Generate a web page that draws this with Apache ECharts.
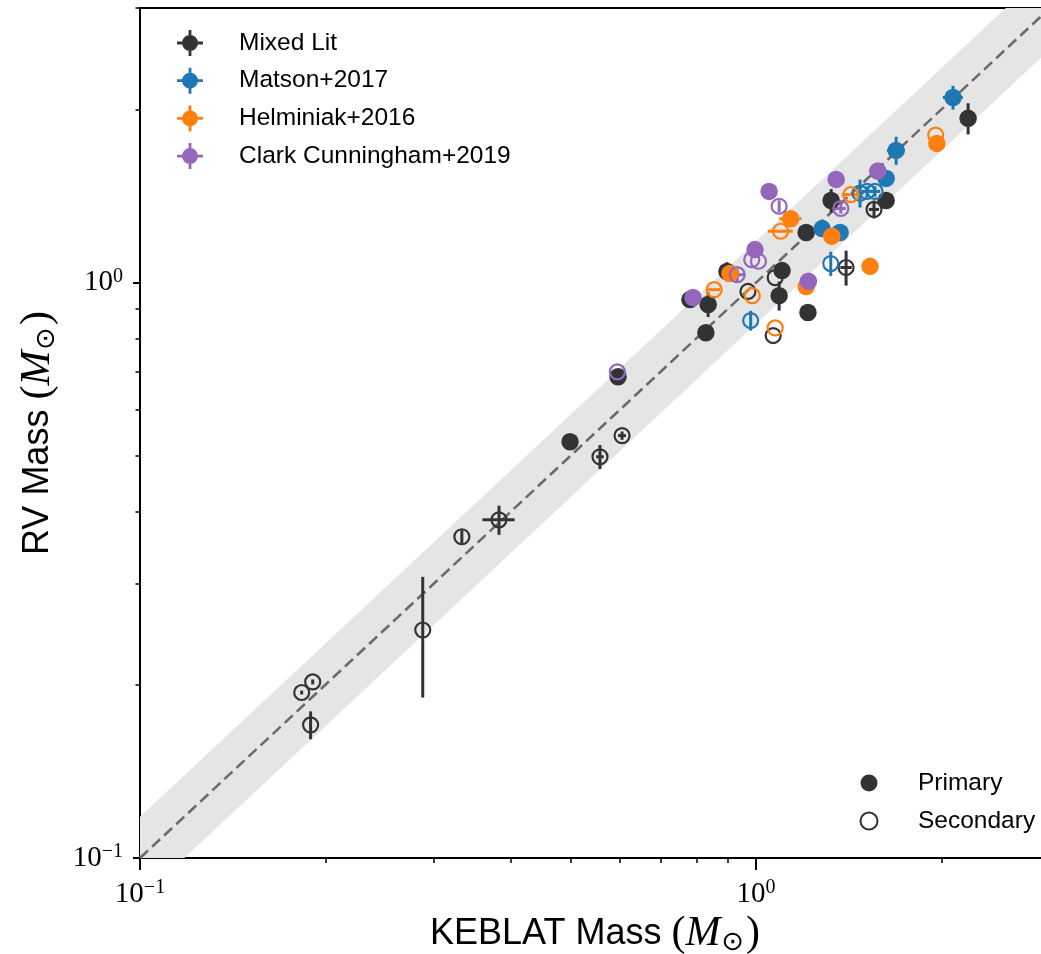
<!DOCTYPE html>
<html>
<head>
<meta charset="utf-8">
<script src="https://cdn.jsdelivr.net/npm/echarts@6/dist/echarts.min.js"></script>
<style>
  html, body { margin: 0; padding: 0; background: #fff; }
  #chart { width: 1041px; height: 954px; }
</style>
</head>
<body>
<div id="chart"></div>
<script>
// Each row: [KEBLAT mass, RV mass, KEBLAT error, RV error]  (solar masses)
const mixedLitPrimary = [
  [2.209, 1.929, 0, 0.12],
  [1.626, 1.389, 0, 0],
  [1.324, 1.389, 0, 0.065],
  [1.206, 1.222, 0, 0],
  [1.102, 1.049, 0, 0],
  [1.090, 0.949, 0, 0.055],
  [1.214, 0.887, 0, 0],
  [0.897, 1.045, 0, 0.04],
  [0.829, 0.818, 0, 0],
  [0.781, 0.934, 0, 0],
  [0.836, 0.916, 0, 0.045],
  [0.597, 0.686, 0, 0],
  [0.499, 0.529, 0, 0]
];
const mixedLitSecondary = [
  [1.554, 1.340, 0.03, 0.048],
  [1.400, 1.062, 0.03, 0.074],
  [1.074, 1.020, 0, 0],
  [0.970, 0.965, 0, 0],
  [1.066, 0.809, 0, 0],
  [0.606, 0.542, 0.009, 0.009],
  [0.558, 0.498, 0.008, 0.024],
  [0.3826, 0.387, 0.023, 0.0225],
  [0.333, 0.3616, 0, 0.0097],
  [0.2877, 0.249, 0, 0.059],
  [0.1907, 0.2023, 0, 0.002],
  [0.1830, 0.1939, 0, 0.0015],
  [0.1892, 0.1703, 0.001, 0.0095]
];
const matsonPrimary = [
  [2.088, 2.097, 0.078, 0.10],
  [1.688, 1.697, 0.057, 0.095],
  [1.626, 1.517, 0, 0],
  [1.280, 1.241, 0, 0],
  [1.369, 1.222, 0, 0]
];
const matsonSecondary = [
  [1.322, 1.079, 0, 0.052],
  [0.980, 0.859, 0, 0.034],
  [1.475, 1.430, 0.02, 0.08],
  [1.514, 1.440, 0.03, 0.03],
  [1.560, 1.440, 0.03, 0.03]
];
const helminiakPrimary = [
  [1.965, 1.745, 0, 0],
  [1.138, 1.291, 0.047, 0],
  [1.327, 1.204, 0, 0],
  [1.531, 1.067, 0, 0],
  [1.206, 0.984, 0, 0],
  [0.907, 1.037, 0, 0]
];
const helminiakSecondary = [
  [1.957, 1.804, 0, 0],
  [1.425, 1.422, 0.048, 0],
  [1.096, 1.228, 0.051, 0],
  [0.855, 0.972, 0.019, 0],
  [0.986, 0.949, 0, 0],
  [1.074, 0.834, 0, 0]
];
const clarkPrimary = [
  [1.576, 1.562, 0, 0],
  [1.349, 1.511, 0, 0],
  [1.050, 1.440, 0, 0],
  [0.996, 1.141, 0, 0],
  [1.216, 1.005, 0, 0],
  [0.790, 0.942, 0, 0]
];
const clarkSecondary = [
  [1.090, 1.357, 0, 0.033],
  [1.373, 1.345, 0.026, 0.027],
  [0.984, 1.096, 0, 0],
  [1.009, 1.089, 0, 0],
  [0.932, 1.032, 0.024, 0.026],
  [0.5955, 0.6993, 0, 0]
];

// Axis range, one-to-one line and tolerance band factor
const axisRange = [0.1, 3.0];
const bandFactor = 1.18;
const majorTicks = [0.1, 1];
const minorTicks = [0.2, 0.3, 0.4, 0.5, 0.6, 0.7, 0.8, 0.9, 2, 3];

const sources = [
  { name: 'Mixed Lit', color: '#333333', primary: mixedLitPrimary, secondary: mixedLitSecondary },
  { name: 'Matson+2017', color: '#1f77b4', primary: matsonPrimary, secondary: matsonSecondary },
  { name: 'Helminiak+2016', color: '#ff7f0e', primary: helminiakPrimary, secondary: helminiakSecondary },
  { name: 'Clark Cunningham+2019', color: '#9467bd', primary: clarkPrimary, secondary: clarkSecondary }
];

const chart = echarts.init(document.getElementById('chart'), null, { renderer: 'canvas' });

function powLabel(v) {
  const e = Math.round(Math.log10(v));
  return '{b|10}{s|' + (e < 0 ? '\u2212' + (-e) : e) + '}';
}
const tickRich = {
  b: { fontFamily: 'Liberation Serif', fontSize: 29, lineHeight: 32, color: '#000' },
  s: { fontFamily: 'Liberation Serif', fontSize: 20, lineHeight: 20, verticalAlign: 'top', color: '#000' }
};
const nameRich = {
  t: { fontFamily: 'Liberation Sans', fontSize: 36, color: '#000', lineHeight: 46 },
  p: { fontFamily: 'Liberation Serif', fontSize: 42, color: '#000', lineHeight: 46 },
  m: { fontFamily: 'Liberation Serif', fontStyle: 'italic', fontSize: 42, color: '#000', lineHeight: 46 },
  o: { fontFamily: 'DejaVu Sans', fontSize: 27, color: '#000', lineHeight: 46, verticalAlign: 'bottom',
       padding: [0, 2, 1, 1] }
};

function mainAxis(isX, title) {
  return {
    type: 'log', logBase: 10, min: axisRange[0], max: axisRange[1],
    position: isX ? 'bottom' : 'left',
    name: title, nameLocation: 'middle', nameGap: isX ? 45 : 79,
    nameTextStyle: { rich: nameRich },
    axisLine: { show: true, lineStyle: { color: '#000', width: 2 } },
    axisTick: { show: true, inside: false, length: isX ? 12 : 7, customValues: majorTicks,
                lineStyle: { color: '#000', width: 2 } },
    axisLabel: { show: true, customValues: majorTicks, formatter: powLabel, rich: tickRich,
                 margin: isX ? 20 : 17 },
    splitLine: { show: false }, minorTick: { show: false }, minorSplitLine: { show: false }
  };
}
function minorAxis(isX) {
  return {
    type: 'log', logBase: 10, min: axisRange[0], max: axisRange[1],
    position: isX ? 'bottom' : 'left',
    axisLine: { show: false },
    axisTick: { show: true, inside: false, length: isX ? 5 : 4.5, customValues: minorTicks,
                lineStyle: { color: '#000', width: 1.5 } },
    axisLabel: { show: false },
    splitLine: { show: false }
  };
}

const titleX = '{t|KEBLAT Mass }{p|(}{m|M}{o|\u2299}{p|)}';
const titleY = '{t|RV Mass }{p|(}{m|M}{o|\u2299}{p|)}';

// Tolerance band around the one-to-one relation
const bandSeries = {
  type: 'custom', name: 'band', z: 1, clip: true, silent: true,
  data: [[axisRange[0], axisRange[0]]],
  renderItem: function (params, api) {
    const lo = axisRange[0], hi = axisRange[1];
    const pts = [
      api.coord([lo, lo / bandFactor]), api.coord([hi, hi / bandFactor]),
      api.coord([hi, hi * bandFactor]), api.coord([lo, lo * bandFactor])
    ];
    return { type: 'polygon', shape: { points: pts }, style: { fill: '#e5e5e5' } };
  }
};
const oneToOne = {
  type: 'line', name: 'one-to-one', z: 2, silent: true, symbol: 'none',
  data: axisRange.map(v => [v, v]),
  lineStyle: { color: '#6b6b6b', width: 2.6, type: [11, 5.5] }
};

function errorSeries(rows, color, label) {
  return {
    type: 'custom', name: label, z: 3, clip: true, silent: true,
    data: rows,
    renderItem: function (params, api) {
      const x = api.value(0), y = api.value(1), xe = api.value(2), ye = api.value(3);
      const kids = [];
      if (ye > 0) {
        const a = api.coord([x, y - ye]), b = api.coord([x, y + ye]);
        kids.push({ type: 'line', shape: { x1: a[0], y1: a[1], x2: b[0], y2: b[1] },
                    style: { stroke: color, lineWidth: 3 } });
      }
      if (xe > 0) {
        const a = api.coord([x - xe, y]), b = api.coord([x + xe, y]);
        kids.push({ type: 'line', shape: { x1: a[0], y1: a[1], x2: b[0], y2: b[1] },
                    style: { stroke: color, lineWidth: 3 } });
      }
      return { type: 'group', children: kids };
    }
  };
}
function markerSeries(rows, color, label, hollow) {
  return {
    type: 'scatter', name: label, z: 3, silent: true,
    data: rows.map(r => [r[0], r[1]]),
    symbol: 'circle', symbolSize: hollow ? 15 : 17.5,
    itemStyle: hollow ? { color: 'rgba(0,0,0,0)', borderColor: color, borderWidth: 2.2, opacity: 1 }
                      : { color: color, opacity: 1 }
  };
}

const series = [bandSeries, oneToOne];
sources.forEach(s => {
  series.push(errorSeries(s.secondary, s.color, s.name + ' secondary bars'));
  series.push(markerSeries(s.secondary, s.color, s.name + ' secondary', true));
  series.push(errorSeries(s.primary, s.color, s.name + ' primary bars'));
  series.push(markerSeries(s.primary, s.color, s.name, false));
});
// Marker-style key entries
series.push(markerSeries([], '#333333', 'Primary', false));
series.push(markerSeries([], '#333333', 'Secondary', true));

const errIcon = 'path://M5,13 A8,8 0 1,1 21,13 A8,8 0 1,1 5,13 Z M11.6,0 H14.4 V26 H11.6 Z M0,11.6 H26 V14.4 H0 Z';

chart.setOption({
  animation: false,
  backgroundColor: '#fff',
  // plot frame runs a few pixels past the right edge of the canvas
  grid: { left: 140, top: 8, right: -9, bottom: 96, show: true, borderColor: '#000', borderWidth: 2,
          backgroundColor: 'transparent', containLabel: false, outerBoundsMode: 'none' },
  xAxis: [mainAxis(true, titleX), minorAxis(true)],
  yAxis: [mainAxis(false, titleY), minorAxis(false)],
  legend: [
    {
      data: sources.map(s => ({ name: s.name, icon: errIcon })),
      orient: 'vertical', left: 177, top: 30, padding: 0,
      itemWidth: 26, itemHeight: 26, itemGap: 11.7, selectedMode: false,
      textStyle: { fontFamily: 'Liberation Sans', fontSize: 24.5, color: '#000', lineHeight: 26,
                   padding: [0, 0, 0, 31] }
    },
    {
      data: [{ name: 'Primary' }, { name: 'Secondary' }],
      orient: 'vertical', left: 859.5, top: 770, padding: 0,
      itemWidth: 17, itemHeight: 17, itemGap: 12, selectedMode: false,
      textStyle: { fontFamily: 'Liberation Sans', fontSize: 24.5, color: '#000', lineHeight: 26,
                   padding: [0, 0, 0, 35.5] }
    }
  ],
  series: series
});
</script>
</body>
</html>
